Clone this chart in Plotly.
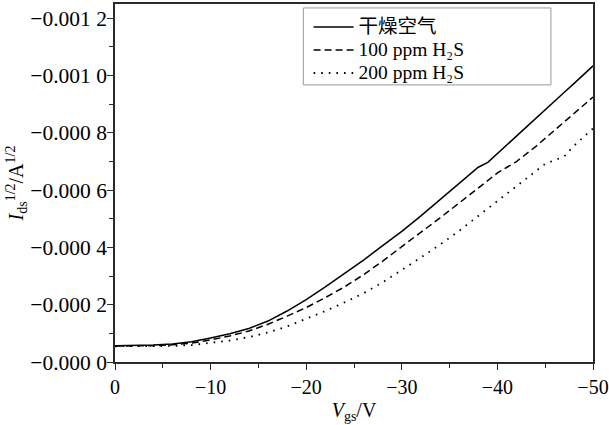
import plotly.graph_objects as go

# Gate voltage (V)
vgs = [0, -2, -4, -6, -8, -10, -12, -14, -16, -18, -20, -22, -24, -26, -28, -30,
       -32, -34, -36, -38, -39, -40, -41, -42, -44, -45, -46, -47, -48, -50]

# I_ds^(1/2) (A^(1/2))
dry_air = [-0.000057, -0.000057, -0.000059, -0.000063, -0.000071, -0.000084, -0.000099,
           -0.000117, -0.000143, -0.000178, -0.000218, -0.000262, -0.000308, -0.000356,
           -0.000406, -0.000456, -0.000510, -0.000566, -0.000622, -0.000680, -0.000697,
           -0.000728, -0.000759, -0.000790, -0.000852, -0.000882, -0.000912, -0.000942,
           -0.000972, -0.001034]
h2s_100 = [-0.000056, -0.000056, -0.000057, -0.000060, -0.000066, -0.000077, -0.000091,
           -0.000108, -0.000132, -0.000160, -0.000190, -0.000225, -0.000262, -0.000305,
           -0.000352, -0.000403, -0.000452, -0.000503, -0.000555, -0.000608, -0.000634,
           -0.000660, -0.000680, -0.000700, -0.000752, -0.000781, -0.000810, -0.000839,
           -0.000868, -0.000925]
h2s_200 = [-0.000055, -0.000055, -0.000055, -0.000056, -0.000059, -0.000066, -0.000075,
           -0.000087, -0.000103, -0.000124, -0.000150, -0.000178, -0.000208, -0.000240,
           -0.000278, -0.000320, -0.000365, -0.000410, -0.000458, -0.000510, -0.000536,
           -0.000562, -0.000588, -0.000614, -0.000666, -0.000692, -0.000705, -0.000718,
           -0.000755, -0.000815]

series_names = ["干燥空气", "100 ppm H₂S", "200 ppm H₂S"]

x_tickvals = [0, -10, -20, -30, -40, -50]
x_ticktext = ["0", "−10", "−20", "−30", "−40", "−50"]
y_tickvals = [0, -0.0002, -0.0004, -0.0006, -0.0008, -0.0010, -0.0012]
y_ticktext = ["−0.000 0", "−0.000 2", "−0.000 4", "−0.000 6", "−0.000 8", "−0.001 0", "−0.001 2"]

FONT = "Liberation Serif, Times New Roman, Noto Sans CJK SC, serif"
AX = "#2a2a2a"

fig = go.Figure()
styles = [dict(dash="solid", width=1.5),
          dict(dash="7px,4px", width=1.5),
          dict(dash="1.6px,6px", width=1.8)]
for name, ys, st in zip(series_names, [dry_air, h2s_100, h2s_200], styles):
    fig.add_trace(go.Scatter(x=vgs, y=ys, mode="lines",
                             name='<span style="font-size:19.5px">' + name + '</span>',
                             line=dict(color="black", **st)))

common_axis = dict(showline=True, linecolor=AX, linewidth=1.6, mirror=True,
                   ticks="outside", ticklen=6, tickwidth=1.4, tickcolor=AX,
                   showgrid=False, zeroline=False, automargin=False)

fig.update_xaxes(range=[0, -50], tickvals=x_tickvals, ticktext=x_ticktext,
                 tickfont=dict(family=FONT, size=20, color="black"),
                 ticklabeloverflow="allow",
                 minor=dict(dtick=5, tick0=0, ticks="outside", ticklen=4,
                            tickwidth=1.2, tickcolor=AX),
                 title=dict(text="<i>V</i><sub>gs</sub>/V",
                            font=dict(family=FONT, size=20, color="black"),
                            standoff=6),
                 **common_axis)
fig.update_yaxes(range=[0, -0.00125], tickvals=y_tickvals, ticktext=y_ticktext,
                 tickfont=dict(family=FONT, size=21.5, color="black"),
                 ticklabelstandoff=-4,
                 minor=dict(dtick=0.0001, tick0=0, ticks="outside", ticklen=4,
                            tickwidth=1.2, tickcolor=AX),
                 title=dict(text="<i>I</i><sub>ds</sub><sup>1/2</sup>/A<sup>1/2</sup>",
                            font=dict(family=FONT, size=20, color="black"),
                            standoff=0),
                 **common_axis)

# legend frame (wider than the entries, as in the reference)
fig.add_shape(type="rect", xref="paper", yref="paper",
              x0=0.394, x1=0.912, y0=0.774, y1=0.989,
              line=dict(color="#999999", width=1), fillcolor="white", layer="below")

fig.update_layout(
    width=609, height=425,
    margin=dict(l=115, r=16, t=4, b=63),
    paper_bgcolor="white", plot_bgcolor="rgba(0,0,0,0)",
    font=dict(family=FONT, color="black"),
    legend=dict(x=0.405, y=0.982, xanchor="left", yanchor="top",
                bgcolor="rgba(0,0,0,0)", borderwidth=0,
                font=dict(family=FONT, size=15.4, color="black"),
                itemwidth=40, tracegroupgap=0),
    showlegend=True,
)

fig.write_html("out.html")
